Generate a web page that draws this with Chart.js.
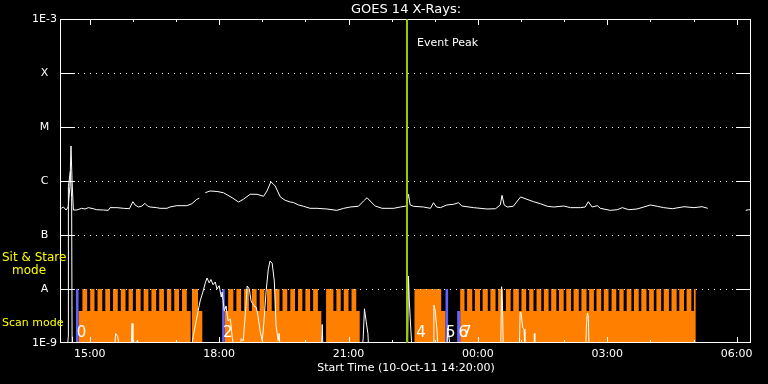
<!DOCTYPE html>
<html>
<head>
<meta charset="utf-8">
<script src="https://cdn.jsdelivr.net/npm/chart.js@4.4.1/dist/chart.umd.min.js"></script>
<style>
  html, body { margin: 0; padding: 0; background: #000; }
</style>
</head>
<body>
<canvas id="goes" width="768" height="384"></canvas>
<script>
// time axis in hours of 10-Oct-11 (values > 24 are next day)
const tStart = 14 + 20 / 60;
const tEnd = tStart + 16;
const hourTicks = [15, 16, 17, 18, 19, 20, 21, 22, 23, 24, 25, 26, 27, 28, 29, 30];

const yTickValues = [1e-9, 1e-8, 1e-7, 1e-6, 1e-5, 1e-4, 1e-3];
const yTickLabels = ['1E-9', 'A', 'B', 'C', 'M', 'X', '1E-3'];
const levelValues = [1e-8, 1e-7, 1e-6, 1e-5, 1e-4];

const eventPeak = 22.365;

// long channel (1-8 A)
const longTimes = [14.34, 14.39, 14.45, 14.50, 14.54, 14.565, 14.59, 14.62, 14.70, 14.81, 14.89, 14.97, 15.08, 15.16,
  15.32, 15.43, 15.47, 15.63, 15.78, 15.92, 16.00, 16.05, 16.13, 16.21, 16.28, 16.34, 16.40, 16.55, 16.63, 16.79,
  16.86, 17.02, 17.25, 17.37, 17.48, 17.54, 17.61, 17.68, 17.79, 17.95, 18.10, 18.30, 18.45, 18.56, 18.72, 18.88,
  19.03, 19.11, 19.20, 19.30, 19.42, 19.53, 19.65, 19.72, 19.84, 19.96, 20.11, 20.27, 20.50, 20.73, 20.89, 21.04,
  21.23, 21.35, 21.43, 21.50, 21.62, 21.78, 22.05, 22.20, 22.34, 22.39, 22.43, 22.51, 22.74, 22.90, 22.97, 23.04,
  23.13, 23.28, 23.44, 23.55, 23.63, 23.90, 24.21, 24.41, 24.52, 24.56, 24.61, 24.68, 24.82, 24.99, 25.14, 25.29,
  25.45, 25.61, 25.76, 25.99, 26.15, 26.38, 26.49, 26.56, 26.65, 26.77, 26.84, 27.07, 27.23, 27.35, 27.50, 27.69,
  27.85, 28.00, 28.16, 28.31, 28.51, 28.78, 29.01, 29.20, 29.33, 29.80, 30.21, 30.28, 30.33];
const longFlux = [3.12e-7, 3.30e-7, 2.90e-7, 3.30e-7, 8.0e-7, 4.45e-6, 1.0e-6, 2.9e-7, 2.9e-7, 3.12e-7, 3.03e-7, 3.21e-7, 3.07e-7, 2.94e-7,
  2.90e-7, 2.86e-7, 3.21e-7, 3.21e-7, 3.12e-7, 3.07e-7, 4.14e-7, 3.60e-7, 3.30e-7, 3.44e-7, 3.86e-7, 3.44e-7, 3.30e-7, 3.21e-7, 3.12e-7, 3.12e-7,
  3.30e-7, 3.49e-7, 3.49e-7, 3.80e-7, 4.58e-7, 4.79e-7, null, 6.07e-7, 6.53e-7, 6.40e-7, 6.07e-7, 4.91e-7, 4.08e-7, 4.58e-7, 5.68e-7, 5.68e-7,
  5.21e-7, 6.53e-7, 9.7e-7, 8.07e-7, 5.06e-7, 4.40e-7, 4.08e-7, 4.0e-7, 3.60e-7, 3.40e-7, 3.12e-7, 3.12e-7, 3.03e-7, 2.86e-7, 3.12e-7, 3.30e-7,
  3.40e-7, 4.27e-7, 4.91e-7, 4.27e-7, 3.44e-7, 3.12e-7, 3.12e-7, 3.30e-7, 3.44e-7, 5.68e-7, 3.60e-7, 3.40e-7, 3.30e-7, 3.12e-7, 3.96e-7, 3.30e-7,
  3.21e-7, 3.60e-7, 3.71e-7, 3.96e-7, 3.44e-7, 3.21e-7, 3.03e-7, 3.07e-7, 3.60e-7, 5.43e-7, 3.60e-7, 3.30e-7, 3.40e-7, 5.06e-7, 4.58e-7, 4.14e-7,
  3.80e-7, 3.40e-7, 3.30e-7, 3.44e-7, 3.21e-7, 3.21e-7, 3.30e-7, 4.14e-7, 3.30e-7, 3.49e-7, 3.12e-7, 2.86e-7, 2.94e-7, 3.21e-7, 2.94e-7, 3.03e-7,
  3.30e-7, 3.60e-7, 3.40e-7, 3.21e-7, 3.07e-7, 3.34e-7, 3.21e-7, 3.34e-7, 3.12e-7, null, 2.86e-7, 2.94e-7, 2.94e-7];

// short channel (0.5-4 A), mostly below the plot floor
const shortTimes = [14.333, 14.48, 14.50, 14.505, 14.55, 14.58, 14.59, 14.60, 15.57, 15.60, 15.65, 15.70, 15.96, 15.98, 16.00,
  16.09, 16.10, 16.11, 17.35, 17.40, 17.49, 17.56, 17.63, 17.68, 17.72, 17.77, 17.81, 17.86, 17.91, 17.95, 18.00,
  18.05, 18.07, 18.12, 18.16, 18.21, 18.26, 18.30, 18.35, 18.49, 18.51, 18.56, 18.63, 18.65, 18.70, 18.74, 18.81,
  18.86, 18.90, 18.95, 19.00, 19.04, 19.09, 19.14, 19.18, 19.23, 19.28, 19.32, 19.37, 19.39, 19.42, 20.37, 20.39,
  20.41, 21.31, 21.34, 21.37, 21.41, 21.45, 21.47, 22.37, 22.39, 22.41, 22.43, 22.46, 22.48, 22.96, 22.98, 23.01,
  23.05, 23.08, 23.28, 23.30, 23.33, 23.36, 24.53, 24.55, 24.57, 24.59, 24.96, 24.98, 25.00, 25.04, 25.07, 25.09,
  25.30, 25.31, 25.32, 26.50, 26.52, 26.54, 26.56, 26.58, 29.33];
const shortFlux = [7e-10, 7e-10, 1.3e-9, 8e-7, 1.5e-6, 5e-7, 1.3e-9, 7e-10, 7e-10, 1.5e-9, 1.3e-9, 7e-10, 7e-10, 2.3e-9, 7e-10,
  7e-10, 1.1e-9, 7e-10, 7e-10, 1.35e-9, 3.2e-9, 6e-9, 9.2e-9, 1.3e-8, 1.6e-8, 1.3e-8, 1.5e-8, 1.2e-8, 1.35e-8, 1e-8, 1.15e-8,
  7.1e-9, 8.8e-9, 3.9e-9, 4.85e-9, 2.55e-9, 2.8e-9, 1.35e-9, 7e-10, 7e-10, 1.2e-9, 1.1e-9, 6e-9, 1.14e-8, 1e-8, 6e-9, 4.85e-9,
  4.6e-9, 3.2e-9, 1.67e-9, 1.09e-9, 2.55e-9, 9.2e-9, 2.3e-8, 3.3e-8, 3.0e-8, 1.4e-8, 2.1e-9, 1.1e-9, 1.5e-9, 7e-10, 7e-10, 2.2e-9,
  7e-10, 7e-10, 1.2e-9, 4.3e-9, 2.5e-9, 1.5e-9, 7e-10, 7e-10, 1.74e-8, 6e-9, 3e-9, 1.1e-9, 7e-10, 7e-10, 5e-9, 4e-9,
  1.8e-9, 7e-10, 7e-10, 1.9e-9, 1.3e-9, 7e-10, 7e-10, 1.1e-8, 5e-9, 7e-10, 7e-10, 3.7e-9, 3.7e-9, 1.9e-9, 1.8e-9, 7e-10,
  7e-10, 1.5e-9, 7e-10, 7e-10, 2.4e-9, 3.6e-9, 3.2e-9, 7e-10, 7e-10];

// EIS observing modes: scan mode (low bar) and sit & stare (tall bar)
const axisFloor = 1e-9;
const scanLevel = 3.9e-9;
const stareLevel = 1e-8;
const scanSpans = [[14.74, 17.34], [17.37, 17.61], [18.13, 20.37], [20.48, 21.26], [22.53, 23.25], [23.59, 29.05]];
const stareSpans = [
  [14.83, 14.94], [15.01, 15.11], [15.18, 15.29], [15.36, 15.47], [15.54, 15.65], [15.72, 15.83], [15.90, 16.00],
  [16.07, 16.18], [16.25, 16.36], [16.43, 16.54], [16.61, 16.72], [16.79, 16.89], [16.96, 17.07], [17.14, 17.25],
  [17.37, 17.51],
  [18.21, 18.33], [18.40, 18.51], [18.58, 18.69], [18.76, 18.87], [18.94, 19.05], [19.11, 19.22], [19.29, 19.40],
  [19.47, 19.58], [19.65, 19.76], [19.83, 19.93], [20.00, 20.11], [20.18, 20.29],
  [20.48, 20.65], [20.72, 20.82], [20.89, 21.00], [21.07, 21.18],
  [22.53, 23.15],
  [23.59, 23.69], [23.75, 23.87], [23.93, 24.05], [24.11, 24.23], [24.29, 24.41], [24.47, 24.58], [24.65, 24.76],
  [24.82, 24.95], [25.01, 25.12], [25.19, 25.29], [25.36, 25.47], [25.53, 25.64], [25.70, 25.82], [25.88, 25.99],
  [26.05, 26.16], [26.22, 26.34], [26.40, 26.52], [26.58, 26.69], [26.75, 26.86], [26.92, 27.03], [27.10, 27.21],
  [27.28, 27.38], [27.45, 27.56], [27.62, 27.73], [27.79, 27.91], [27.97, 28.08], [28.14, 28.25], [28.31, 28.43],
  [28.49, 28.61], [28.67, 28.78], [28.84, 28.95], [29.01, 29.05]];
const markerFullSpans = [[14.68, 14.74], [18.07, 18.13], [23.25, 23.31]];
const markerScanSpans = [[23.52, 23.59]];

const modeLabelTimes = [14.70, 18.09, 22.57, 23.26, 23.55, 23.63];
const modeLabelText = ['0', '2', '4', '5', '6', '7'];

function pts(ts, vs) {
  return ts.map((t, i) => ({ x: t, y: vs[i] }));
}

function buildSteps(layers) {
  const edges = [tStart, tEnd];
  layers.forEach(l => l.spans.forEach(s => edges.push(s[0], s[1])));
  const xs = [...new Set(edges)].sort((a, b) => a - b);
  return xs.map((t, i) => {
    const mid = i < xs.length - 1 ? (t + xs[i + 1]) / 2 : t;
    let lvl = axisFloor;
    layers.forEach(l => l.spans.forEach(s => {
      if (mid > s[0] && mid < s[1]) lvl = Math.max(lvl, l.level);
    }));
    return { x: t, y: lvl };
  });
}

function hh(v) {
  return String(v % 24).padStart(2, '0') + ':00';
}

const overlay = {
  id: 'goesOverlay',
  beforeDraw(chart) {
    const ctx = chart.ctx;
    ctx.save();
    ctx.fillStyle = '#000';
    ctx.fillRect(0, 0, chart.width, chart.height);
    ctx.restore();
  },
  afterDatasetsDraw(chart) {
    const { ctx, chartArea: a, scales: { x, y } } = chart;
    ctx.save();
    ctx.fillStyle = '#fff';

    levelValues.forEach(v => {
      const py = Math.round(y.getPixelForValue(v));
      ctx.fillRect(a.left - 1, py, 15, 1);
      ctx.fillRect(a.right - 15, py, 15, 1);
      for (let px = a.left + 17; px < a.right - 17; px += 6) ctx.fillRect(px, py, 1, 1);
    });

    hourTicks.forEach(h => {
      const px = Math.round(x.getPixelForValue(h));
      const len = h % 3 === 0 ? 6 : 3;
      ctx.fillRect(px, a.top, 1, len);
      ctx.fillRect(px, a.bottom - len, 1, len);
    });

    // frame
    ctx.fillRect(a.left - 1, a.top, 1, a.bottom - a.top);
    ctx.fillRect(a.right - 1, a.top, 1, a.bottom - a.top);
    ctx.fillRect(a.left - 1, a.top, a.right - a.left + 1, 1);
    ctx.fillRect(a.left - 1, a.bottom - 1, a.right - a.left + 1, 1);

    // event peak
    const ex = Math.round(x.getPixelForValue(eventPeak));
    ctx.fillStyle = '#99cc00';
    ctx.fillRect(ex - 1, a.top, 2, a.bottom - a.top);
    ctx.fillStyle = '#fff';
    ctx.font = '11px "DejaVu Sans"';
    ctx.textBaseline = 'middle';
    ctx.textAlign = 'left';
    ctx.fillText('Event Peak', ex + 10, 43);

    ctx.font = '15px "DejaVu Sans"';
    modeLabelTimes.forEach((t, i) => {
      ctx.fillText(modeLabelText[i], x.getPixelForValue(t), 333);
    });

    ctx.fillStyle = '#ffff00';
    ctx.font = '12px "DejaVu Sans"';
    ctx.fillText('Sit & Stare', 2, 258);
    ctx.fillText('mode', 12, 271);
    ctx.font = '11px "DejaVu Sans"';
    ctx.fillText('Scan mode', 2, 323);
    ctx.restore();
  },
};

Chart.defaults.font.family = '"DejaVu Sans", sans-serif';
Chart.defaults.color = '#fff';

new Chart(document.getElementById('goes').getContext('2d'), {
  type: 'line',
  data: {
    datasets: [
      {
        label: 'GOES 14 long',
        data: pts(longTimes, longFlux),
        borderColor: '#fff',
        borderWidth: 1,
        pointRadius: 0,
        spanGaps: false,
        order: 0,
      },
      {
        label: 'GOES 14 short',
        data: pts(shortTimes, shortFlux),
        borderColor: '#fff',
        borderWidth: 1,
        pointRadius: 0,
        order: 0,
      },
      {
        label: 'mode start',
        data: buildSteps([{ spans: markerScanSpans, level: scanLevel }, { spans: markerFullSpans, level: stareLevel }]),
        stepped: true,
        borderWidth: 0,
        pointRadius: 0,
        backgroundColor: '#6262ff',
        fill: 'start',
        order: 1,
      },
      {
        label: 'mode',
        data: buildSteps([{ spans: scanSpans, level: scanLevel }, { spans: stareSpans, level: stareLevel }]),
        stepped: true,
        borderWidth: 0,
        pointRadius: 0,
        backgroundColor: '#ff8000',
        fill: 'start',
        order: 2,
      },
    ],
  },
  options: {
    responsive: false,
    animation: false,
    layout: { padding: { left: 0, right: 17, top: 0, bottom: 0 } },
    plugins: {
      legend: { display: false },
      tooltip: { enabled: false },
      title: {
        display: true,
        text: 'GOES 14 X-Rays:',
        color: '#fff',
        fullSize: false,
        font: { size: 13, weight: 'normal' },
        padding: { top: 1.5, bottom: 1.9 },
      },
    },
    scales: {
      x: {
        type: 'linear',
        min: tStart,
        max: tEnd,
        grid: { display: false, drawTicks: false },
        border: { display: false },
        afterFit: (s) => { s.height = 41; },
        afterBuildTicks: (s) => { s.ticks = hourTicks.map(v => ({ value: v })); },
        ticks: {
          color: '#fff',
          font: { size: 11 },
          padding: 5,
          autoSkip: false,
          maxRotation: 0,
          callback: (v) => (v % 3 === 0 ? hh(v) : ''),
        },
        title: {
          display: true,
          text: 'Start Time (10-Oct-11 14:20:00)',
          color: '#fff',
          font: { size: 11 },
          padding: { top: 0, bottom: 9 },
        },
      },
      y: {
        type: 'logarithmic',
        min: 1e-9,
        max: 1e-3,
        grid: { display: false, drawTicks: false },
        border: { display: false },
        afterFit: (s) => { s.width = 61; },
        afterBuildTicks: (s) => { s.ticks = yTickValues.map(v => ({ value: v })); },
        ticks: {
          color: '#fff',
          font: { size: 11 },
          padding: 4,
          crossAlign: 'center',
          callback: (v, i) => yTickLabels[i],
        },
      },
    },
  },
  plugins: [overlay],
});
</script>
</body>
</html>
